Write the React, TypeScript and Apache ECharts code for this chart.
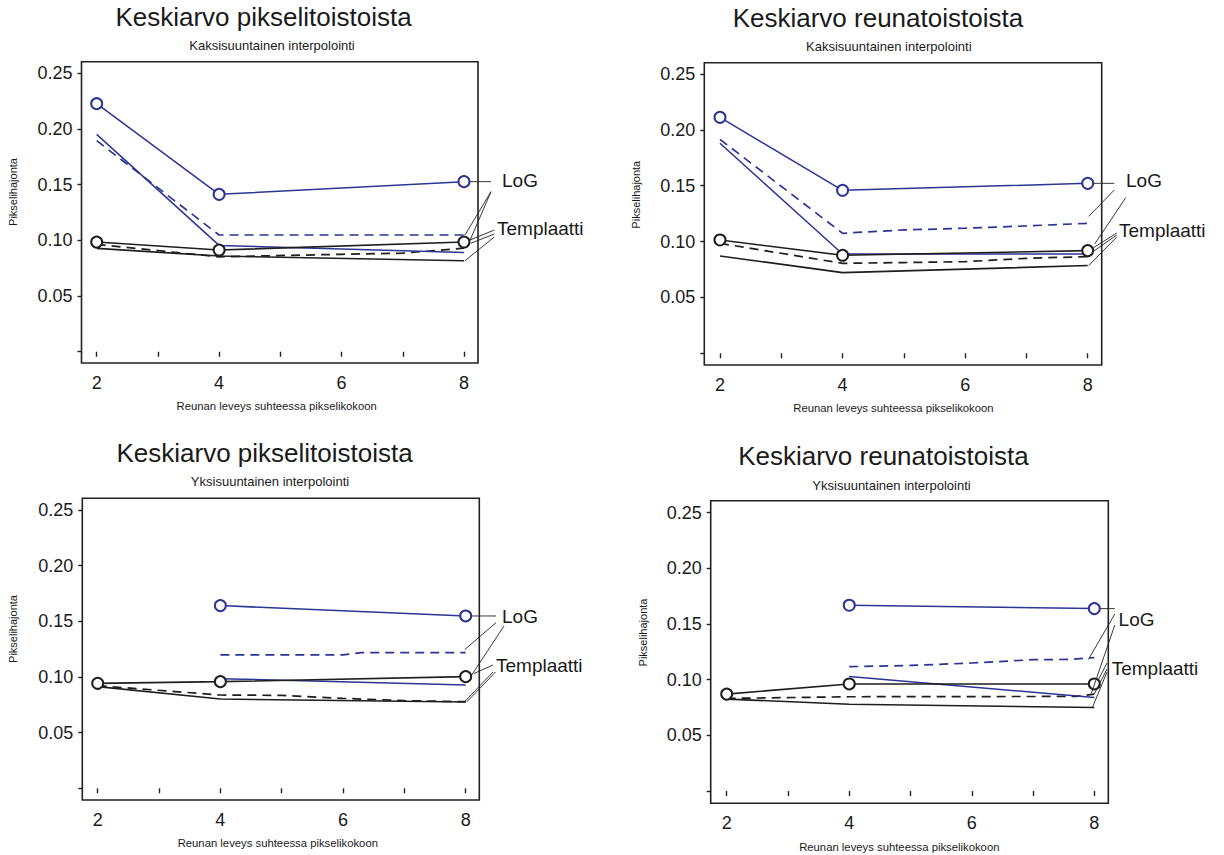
import React, { useEffect, useRef } from 'react';
import * as echarts from 'echarts';

const FONT = "'Liberation Sans', Arial, Helvetica, sans-serif";
const BLUE = '#2b3596';
const BLACK = '#1e1e1e';
const TEXT = '#1a1a1a';

// ---- texts ----
const titles = ['Keskiarvo pikselitoistoista', 'Keskiarvo reunatoistoista', 'Keskiarvo pikselitoistoista', 'Keskiarvo reunatoistoista'];
const subtitles = ['Kaksisuuntainen interpolointi', 'Kaksisuuntainen interpolointi', 'Yksisuuntainen interpolointi', 'Yksisuuntainen interpolointi'];
const xAxisName = 'Reunan leveys suhteessa pikselikokoon';
const yAxisName = 'Pikselihajonta';
const logLabel = 'LoG';
const tplLabel = 'Templaatti';

// ---- ticks ----
const xTickValues = [2, 3, 4, 5, 6, 7, 8];
const xLabelValues = [2, 4, 6, 8];
const yTickValues = [0, 0.05, 0.1, 0.15, 0.2, 0.25];
const yLabelValues = [0.05, 0.1, 0.15, 0.2, 0.25];

// ---- data: panel 1 (pikselitoistot, kaksisuuntainen) ----
const p1LogCircle = [[2, 0.2227], [4, 0.1413], [8, 0.1527]];
const p1LogSolid = [[2, 0.1952], [4, 0.0955], [8, 0.0892]];
const p1LogDashed = [[2, 0.1895], [4, 0.1048], [8, 0.1048]];
const p1TplCircle = [[2, 0.0985], [4, 0.0913], [8, 0.0985]];
const p1TplSolid = [[2, 0.0928], [4, 0.0859], [8, 0.0817]];
const p1TplDashed = [[2, 0.0964], [4, 0.0852], [6, 0.0875], [7, 0.0885], [8, 0.093]];

// ---- data: panel 2 (reunatoistot, kaksisuuntainen) ----
const p2LogCircle = [[2, 0.2112], [4, 0.1459], [8, 0.1521]];
const p2LogSolid = [[2, 0.188], [4, 0.0889], [8, 0.0889]];
const p2LogDashed = [[2, 0.1915], [4, 0.1074], [5, 0.1104], [6, 0.1119], [7, 0.114], [8, 0.1163]];
const p2TplCircle = [[2, 0.1014], [4, 0.0877], [8, 0.0919]];
const p2TplSolid = [[2, 0.0871], [4, 0.0722], [8, 0.0785]];
const p2TplDashed = [[2, 0.0984], [4, 0.0805], [5, 0.0812], [6, 0.082], [7, 0.085], [8, 0.0865]];

// ---- data: panel 3 (pikselitoistot, yksisuuntainen) ----
const p3LogCircle = [[4, 0.1641], [8, 0.1548]];
const p3LogSolid = [[4, 0.0985], [8, 0.0928]];
const p3LogDashed = [[4, 0.1198], [6, 0.1199], [6.3, 0.1219], [8, 0.1219]];
const p3TplCircle = [[2, 0.0943], [4, 0.0958], [8, 0.1003]];
const p3TplSolid = [[2, 0.0913], [4, 0.0802], [8, 0.0775]];
const p3TplDashed = [[2, 0.0922], [4, 0.0838], [5, 0.0835], [6, 0.0808], [7, 0.0787], [8, 0.0778]];

// ---- data: panel 4 (reunatoistot, yksisuuntainen) ----
const p4LogCircle = [[4, 0.1669], [8, 0.1639]];
const p4LogSolid = [[4, 0.1029], [8, 0.0841]];
const p4LogDashed = [[4, 0.1117], [5, 0.1128], [6, 0.115], [7, 0.118], [7.6, 0.1182], [8, 0.1199]];
const p4TplCircle = [[2, 0.0871], [4, 0.0962], [8, 0.0962]];
const p4TplSolid = [[2, 0.0826], [4, 0.078], [8, 0.075]];
const p4TplDashed = [[2, 0.0832], [4, 0.0847], [7.7, 0.085], [8, 0.0871]];

const panelData: Record<string, number[][]>[] = [
  { logCircle: p1LogCircle, logSolid: p1LogSolid, logDashed: p1LogDashed, tplCircle: p1TplCircle, tplSolid: p1TplSolid, tplDashed: p1TplDashed },
  { logCircle: p2LogCircle, logSolid: p2LogSolid, logDashed: p2LogDashed, tplCircle: p2TplCircle, tplSolid: p2TplSolid, tplDashed: p2TplDashed },
  { logCircle: p3LogCircle, logSolid: p3LogSolid, logDashed: p3LogDashed, tplCircle: p3TplCircle, tplSolid: p3TplSolid, tplDashed: p3TplDashed },
  { logCircle: p4LogCircle, logSolid: p4LogSolid, logDashed: p4LogDashed, tplCircle: p4TplCircle, tplSolid: p4TplSolid, tplDashed: p4TplDashed },
];

// ---- layout (positions only) ----
type Leader = { fx: number; fy?: number; s: string; dx: number; dy?: number; h?: boolean };
type Layout = {
  grid: { left: number; top: number; width: number; height: number };
  xr: [number, number]; yr: [number, number];
  title: [number, number]; sub: [number, number]; xName: [number, number]; yName: [number, number];
  log: [number, number]; tpl: [number, number];
  leaders: Leader[];
};

const layouts: Layout[] = [
  {
    grid: { left: 81.5, top: 61.7, width: 396.5, height: 301.3 }, xr: [1.752, 8.229], yr: [-0.0101, 0.2604],
    title: [263.5, 16.5], sub: [272, 45.3], xName: [276.7, 405.5], yName: [13.3, 192], log: [502, 180], tpl: [497, 228.5],
    leaders: [
      { h: true, fx: 491, s: 'logCircle', dx: 6 },
      { fx: 491, fy: 191.7, s: 'logDashed', dx: 1, dy: 0 },
      { fx: 491, fy: 191.7, s: 'logSolid', dx: 6, dy: -12 },
      { fx: 494.3, fy: 230, s: 'tplCircle', dx: 6, dy: -2 },
      { fx: 494.3, fy: 234, s: 'tplDashed', dx: 7, dy: -5 },
      { fx: 494.3, fy: 237, s: 'tplSolid', dx: 1, dy: 0 },
    ],
  },
  {
    grid: { left: 704.3, top: 62.7, width: 397.4, height: 302.3 }, xr: [1.744, 8.228], yr: [-0.0105, 0.2601],
    title: [877.9, 18], sub: [888.8, 46], xName: [893.4, 408], yName: [636, 194.7], log: [1126, 180.7], tpl: [1119, 230],
    leaders: [
      { h: true, fx: 1114.3, s: 'logCircle', dx: 6 },
      { fx: 1114.3, fy: 190, s: 'logDashed', dx: 1, dy: -7 },
      { fx: 1125.7, fy: 197.7, s: 'logSolid', dx: 7, dy: -10 },
      { fx: 1116.7, fy: 233, s: 'tplCircle', dx: 6, dy: -3 },
      { fx: 1116.7, fy: 235, s: 'tplDashed', dx: 4, dy: -4 },
      { fx: 1116.7, fy: 237, s: 'tplSolid', dx: 1, dy: 0 },
    ],
  },
  {
    grid: { left: 82.3, top: 498.3, width: 397, height: 301.7 }, xr: [1.749, 8.222], yr: [-0.0105, 0.2605],
    title: [264.6, 452.5], sub: [270, 481.5], xName: [277.8, 843.3], yName: [13.4, 629], log: [502, 616], tpl: [496, 665.7],
    leaders: [
      { h: true, fx: 496, s: 'logCircle', dx: 6 },
      { fx: 496, fy: 622.7, s: 'logDashed', dx: -1, dy: -3 },
      { fx: 504, fy: 626, s: 'logSolid', dx: 6, dy: -10 },
      { fx: 493, fy: 665, s: 'tplCircle', dx: 8, dy: -3 },
      { fx: 493, fy: 672, s: 'tplDashed', dx: -1, dy: 0 },
      { fx: 495.5, fy: 672, s: 'tplSolid', dx: 1, dy: 0 },
    ],
  },
  {
    grid: { left: 710.7, top: 500.7, width: 397.6, height: 302.6 }, xr: [1.739, 8.228], yr: [-0.011, 0.2608],
    title: [883.4, 456], sub: [891.5, 485], xName: [899.3, 846.5], yName: [642.5, 632.5], log: [1118.6, 619], tpl: [1111.7, 668.3],
    leaders: [
      { h: true, fx: 1114.8, s: 'logCircle', dx: 6 },
      { fx: 1114.8, fy: 614, s: 'logDashed', dx: -6, dy: 2 },
      { fx: 1114.8, fy: 625, s: 'logSolid', dx: -3, dy: -4 },
      { fx: 1107, fy: 663, s: 'tplCircle', dx: 4, dy: -4 },
      { fx: 1107, fy: 669, s: 'tplDashed', dx: 0, dy: 0 },
      { fx: 1107, fy: 672, s: 'tplSolid', dx: -2, dy: 0 },
    ],
  },
];

const seriesStyles: Record<string, { color: string; dashed: boolean; symbol: boolean; width: number }> = {
  logCircle: { color: BLUE, dashed: false, symbol: true, width: 1.5 },
  logSolid: { color: BLUE, dashed: false, symbol: false, width: 1.5 },
  logDashed: { color: BLUE, dashed: true, symbol: false, width: 1.7 },
  tplCircle: { color: BLACK, dashed: false, symbol: true, width: 1.6 },
  tplSolid: { color: BLACK, dashed: false, symbol: false, width: 1.6 },
  tplDashed: { color: BLACK, dashed: true, symbol: false, width: 1.7 },
};
const seriesOrder = ['tplSolid', 'tplDashed', 'logSolid', 'logDashed', 'tplCircle', 'logCircle'];

function textEl(text: string, x: number, y: number, size: number, align: string, rotation = 0) {
  return {
    type: 'text', x, y, rotation, silent: true, z: 100,
    style: {
      text, fontSize: size, fontFamily: FONT, fill: TEXT,
      align, verticalAlign: 'middle', textAlign: align, textVerticalAlign: 'middle',
    },
  };
}

export default function App() {
  const ref = useRef<HTMLDivElement>(null);
  useEffect(() => {
    if (!ref.current) return;
    const chart = echarts.init(ref.current, undefined, { renderer: 'svg' });
    const grids: any[] = [];
    const xAxes: any[] = [];
    const yAxes: any[] = [];
    const series: any[] = [];
    layouts.forEach((lay, i) => {
      grids.push({ ...lay.grid, show: true, borderColor: '#222', borderWidth: 1.6, backgroundColor: 'transparent' });
      xAxes.push({
        gridIndex: i, type: 'value', min: lay.xr[0], max: lay.xr[1],
        axisLine: { show: false }, splitLine: { show: false },
        axisTick: { show: true, inside: false, length: 5, customValues: xTickValues, lineStyle: { color: '#222', width: 1.4 } },
        axisLabel: { customValues: xLabelValues, margin: 11, fontSize: 18, color: TEXT, fontFamily: FONT },
      });
      yAxes.push({
        gridIndex: i, type: 'value', min: lay.yr[0], max: lay.yr[1],
        axisLine: { show: false }, splitLine: { show: false },
        axisTick: { show: true, inside: false, length: 4, customValues: yTickValues, lineStyle: { color: '#222', width: 1.4 } },
        axisLabel: { customValues: yLabelValues, margin: 9, fontSize: 18, color: TEXT, fontFamily: FONT, formatter: (v: number) => v.toFixed(2) },
      });
      seriesOrder.forEach((key) => {
        const st = seriesStyles[key];
        series.push({
          type: 'line', xAxisIndex: i, yAxisIndex: i, data: panelData[i][key],
          symbol: st.symbol ? 'emptyCircle' : 'none', symbolSize: 11, showSymbol: st.symbol,
          lineStyle: { color: st.color, width: st.width, type: st.dashed ? [9, 6] : 'solid' },
          itemStyle: { color: st.color, borderColor: st.color, borderWidth: 1.5 },
          z: st.symbol ? 5 : 3, silent: true,
        });
      });
    });
    chart.setOption({
      animation: false,
      backgroundColor: '#ffffff',
      grid: grids, xAxis: xAxes, yAxis: yAxes, series,
    });

    const elements: any[] = [];
    layouts.forEach((lay, i) => {
      elements.push(textEl(titles[i], lay.title[0], lay.title[1], 26, 'center'));
      elements.push(textEl(subtitles[i], lay.sub[0], lay.sub[1], 13, 'center'));
      elements.push(textEl(xAxisName, lay.xName[0], lay.xName[1], 11.3, 'center'));
      elements.push(textEl(yAxisName, lay.yName[0], lay.yName[1], 11, 'center', Math.PI / 2));
      elements.push(textEl(logLabel, lay.log[0], lay.log[1], 19, 'left'));
      elements.push(textEl(tplLabel, lay.tpl[0], lay.tpl[1], 19, 'left'));
      lay.leaders.forEach((ld) => {
        const d = panelData[i][ld.s];
        const last = d[d.length - 1];
        const p = chart.convertToPixel({ gridIndex: i } as any, last) as number[];
        const tx = p[0] + ld.dx;
        const ty = p[1] + (ld.dy || 0);
        const fy = ld.h ? ty : (ld.fy as number);
        elements.push({
          type: 'line', silent: true, z: 90,
          shape: { x1: ld.fx, y1: fy, x2: tx, y2: ty },
          style: { stroke: '#222', lineWidth: 0.9 },
        });
      });
    });
    chart.setOption({ graphic: { elements } });

    return () => chart.dispose();
  }, []);
  return <div ref={ref} style={{ position: 'absolute', left: 0, top: 0, width: 1224, height: 855, background: '#fff' }} />;
}
